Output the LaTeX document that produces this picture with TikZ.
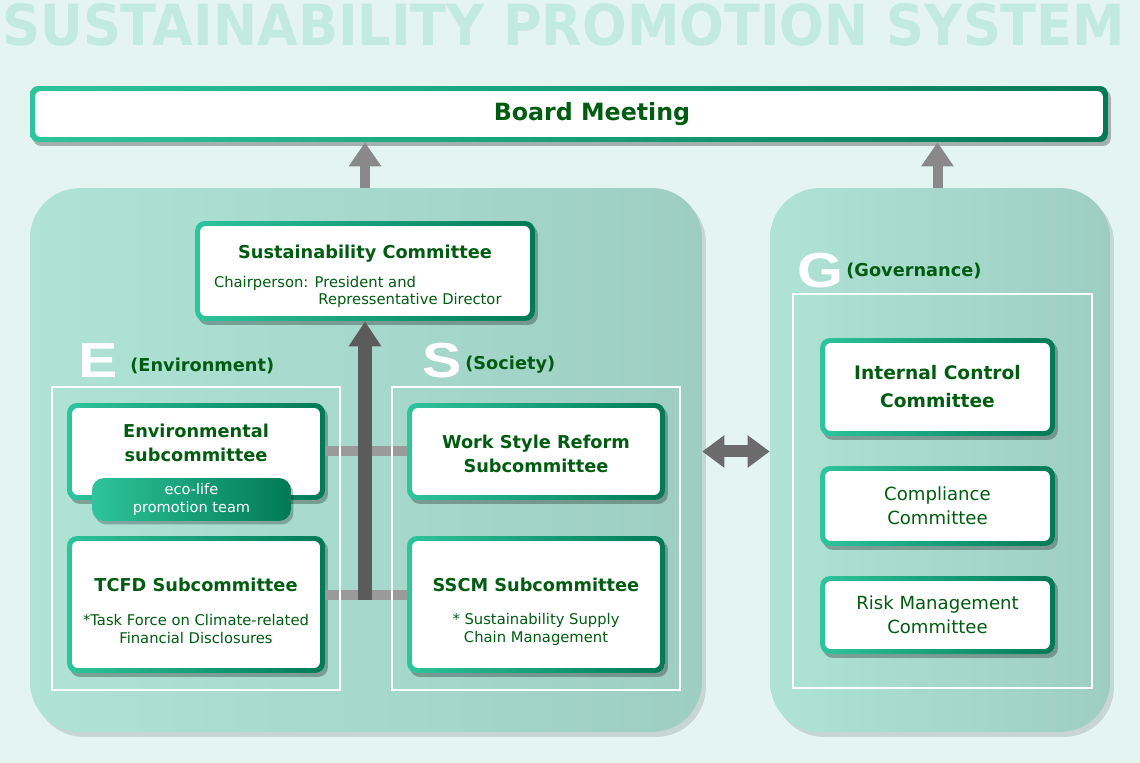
\documentclass[tikz,border=0pt]{standalone}
\usepackage{fontspec}
\usepackage{graphicx}
\setmainfont{DejaVu Sans}
\newfontfamily\headfont{Liberation Sans}
\usetikzlibrary{arrows.meta, shadows}
\definecolor{bgmint}{HTML}{E4F4F0}
\definecolor{titlemint}{HTML}{C3EADF}
\definecolor{panelL}{HTML}{AEE3D5}
\definecolor{panelR}{HTML}{9ECEC2}
\definecolor{rimL}{HTML}{2EC49C}
\definecolor{rimR}{HTML}{007A55}
\definecolor{dkgreen}{HTML}{005C10}
\definecolor{arrowgray}{HTML}{6B6B6B}
\definecolor{linkgray}{HTML}{9A9A9A}
\newcommand{\ringinset}{0.1cm}
\tikzset{panel/.style = {shape=rectangle, rounded corners=1cm, left color=panelL, right color=panelR, drop shadow={shadow xshift=0.08cm, shadow yshift=-0.1cm, opacity=0.12, fill=black}}}
\tikzset{frame/.style = {shape=rectangle, draw=white, line width=0.03cm}}
\tikzset{comm/.style = {shape=rectangle, rounded corners=0.2cm, left color=rimL, right color=rimR, text=dkgreen, align=center, inner sep=0pt, drop shadow={shadow xshift=0.06cm, shadow yshift=-0.08cm, opacity=0.28, fill=black}, path picture={\fill[white, rounded corners=0.12cm] ([xshift=\ringinset, yshift=-\ringinset]path picture bounding box.north west) rectangle ([xshift=-\ringinset, yshift=\ringinset]path picture bounding box.south east);}}}
\tikzset{pill/.style = {shape=rectangle, rounded corners=0.24cm, left color=rimL, right color=rimR, text=white, align=center, inner sep=0pt, font=\fontsize{8.3}{10.2}\selectfont, drop shadow={shadow xshift=0.05cm, shadow yshift=-0.07cm, opacity=0.25, fill=black}}}
\tikzset{bigletter/.style = {font=\headfont\bfseries\fontsize{28}{28}\selectfont, text=white, inner sep=0pt, anchor=base west}}
\tikzset{grouplabel/.style = {font=\bfseries\fontsize{10.1}{12}\selectfont, text=dkgreen, inner sep=0pt, anchor=base west}}
\tikzset{uparrow/.style = {-{Triangle[width=0.62cm, length=0.48cm]}, line width=0.2cm, draw=arrowgray!80}}
\tikzset{mainarrow/.style = {-{Triangle[width=0.62cm, length=0.5cm]}, line width=0.28cm, draw=arrowgray!85!black}}
\tikzset{link/.style = {line width=0.2cm, draw=linkgray}}
\tikzset{both/.style = {{Triangle[width=0.62cm, length=0.44cm]}-{Triangle[width=0.62cm, length=0.44cm]}, line width=0.24cm, draw=arrowgray}}

\begin{document}
\begin{tikzpicture}[x=0.02cm, y=-0.02cm]
                \useasboundingbox (0,0) rectangle (1140,763);
                \fill[bgmint] (0,0) rectangle (1140,763);
                \node[font=\bfseries, text=titlemint, inner sep=0pt, anchor=north west] (title) at (2,3) {\resizebox{22.46cm}{0.84cm}{SUSTAINABILITY PROMOTION SYSTEM}};
                \node[comm, minimum width=21.56cm, minimum height=1.12cm, rounded corners=0.16cm, font=\bfseries\fontsize{13.5}{15}\selectfont] (board) at (569,114) {\hspace*{0.92cm}Board Meeting};
                \node[panel, minimum width=13.44cm, minimum height=10.88cm] (lpanel) at (366,460) {};
                \node[panel, minimum width=6.8cm, minimum height=10.88cm] (gpanel) at (940,460) {};
                \node[bigletter] (eletter) at (78,378) {\scalebox{1.2}[1]{E}};
                \node[grouplabel] (elabel) at (130,372) {(Environment)};
                \node[bigletter] (sletter) at (422,378) {\scalebox{1.2}[1]{S}};
                \node[grouplabel] (slabel) at (465,370) {(Society)};
                \node[bigletter] (gletter) at (797,288) {\scalebox{1.2}[1]{G}};
                \node[grouplabel] (glabel) at (846,277) {(Governance)};
                \node[comm, minimum width=6.8cm, minimum height=2cm, font=\fontsize{8.4}{9.7}\selectfont] (sust) at (365,271) {\rule{0pt}{14pt}{\bfseries\fontsize{10.1}{12}\selectfont Sustainability Committee}\\[6.8pt]Chairperson: President and\hspace*{2cm}\mbox{}\\\hspace*{1.8cm}Repressentative Director};
                \node[comm, minimum width=5.16cm, minimum height=1.94cm, font=\bfseries\fontsize{10.1}{13.6}\selectfont] (envsub) at (196,451.5) {Environmental\\subcommittee\\[-4pt]\mbox{}};
                \node[pill, minimum width=3.98cm, minimum height=0.86cm] (eco) at (191.5,499.5) {eco-life\\promotion team};
                \node[comm, minimum width=5.16cm, minimum height=2.74cm, font=\fontsize{8.4}{10.2}\selectfont] (tcfd) at (196,604.5) {\rule{0pt}{15pt}{\bfseries\fontsize{10.1}{12}\selectfont TCFD Subcommittee}\\[9pt]*Task Force on Climate-related\\Financial Disclosures};
                \node[comm, minimum width=5.16cm, minimum height=1.94cm, font=\bfseries\fontsize{10.1}{13.6}\selectfont] (wsr) at (536,451.5) {\rule{0pt}{10pt}Work Style Reform\\Subcommittee};
                \node[comm, minimum width=5.16cm, minimum height=2.74cm, font=\fontsize{8.4}{10.2}\selectfont] (sscm) at (536,604.5) {\rule{0pt}{15.5pt}{\bfseries\fontsize{10.1}{12}\selectfont SSCM Subcommittee}\\[8.6pt]* Sustainability Supply\\Chain Management};
                \node[comm, minimum width=4.7cm, minimum height=1.96cm, font=\bfseries\fontsize{10.6}{15.9}\selectfont] (ic) at (937.5,387) {Internal Control\\Committee};
                \node[comm, minimum width=4.7cm, minimum height=1.6cm, font=\fontsize{10.3}{13.6}\selectfont] (compl) at (937.5,506) {Compliance\\Committee};
                \node[comm, minimum width=4.7cm, minimum height=1.56cm, font=\fontsize{10.3}{13.6}\selectfont] (risk) at (937.5,615) {Risk Management\\Committee};
                \coordinate (hub) at (365,600);
                \coordinate (lowlink) at (365,595);
                \draw[link] (envsub.east) -- (wsr.west);
                \draw[link] (tcfd.east |- lowlink) -- (sscm.west |- lowlink);
                \draw[mainarrow] (hub) -- (sust.south);
                \node[frame, minimum width=5.76cm, minimum height=6.06cm] (eframe) at (196,538.5) {};
                \node[frame, minimum width=5.76cm, minimum height=6.06cm] (sframe) at (536,538.5) {};
                \node[frame, minimum width=5.98cm, minimum height=7.88cm] (gframe) at (942.5,491) {};
                \draw[uparrow] (sust.north |- lpanel.north) -- (sust.north |- board.south);
                \draw[uparrow] (ic.north |- gpanel.north) -- (ic.north |- board.south);
                \draw[both] (lpanel.east |- wsr.west) -- (gpanel.west |- wsr.west);
\end{tikzpicture}
\end{document}
